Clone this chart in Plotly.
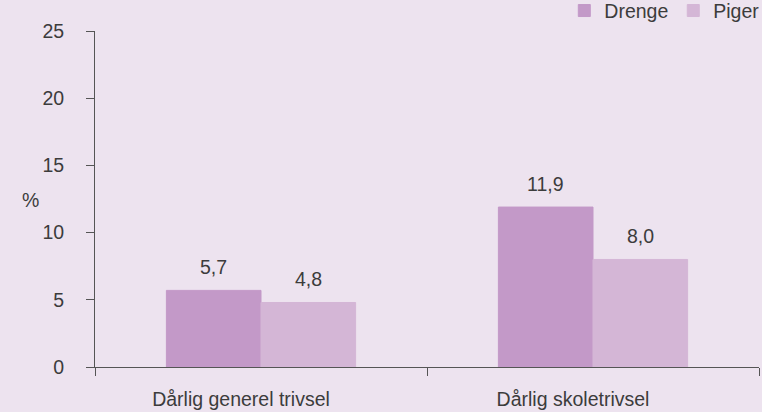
import plotly.graph_objects as go

categories = ['Dårlig generel trivsel', 'Dårlig skoletrivsel']
drenge = [5.7, 11.9]
piger = [4.8, 8.0]
y_ticks = [0, 5, 10, 15, 20, 25]

FONT = 'Liberation Sans, Arial, sans-serif'
TXT = '#3c3c3c'
FS = 19.5

fig = go.Figure()
fig.add_trace(go.Bar(x=categories, y=drenge, name='Drenge', marker_color='#c399c8',
                     marker_line=dict(color='#c399c8', width=1)))
fig.add_trace(go.Bar(x=categories, y=piger, name='Piger', marker_color='#d4b6d6',
                     marker_line=dict(color='#d4b6d6', width=1)))

#------------------ value labels ------------------#
for i, cat in enumerate(categories):
    for val, off in ((drenge[i], -0.143), (piger[i], 0.143)):
        fig.add_annotation(
            x=i + off, y=val, xref='x', yref='y',
            text=f'{val:.1f}'.replace('.', ','),
            showarrow=False, yshift=23,
            font=dict(size=FS, color=TXT, family=FONT),
        )

fig.add_annotation(
    x=-0.113, y=12.4, xref='paper', yref='y', text='%', showarrow=False,
    font=dict(size=FS, color=TXT, family=FONT),
)

fig.update_layout(
    width=762, height=412,
    barmode='group', bargap=0.43, bargroupgap=0,
    paper_bgcolor='#ede3ef', plot_bgcolor='#ede3ef',
    margin=dict(l=95, r=3, t=31, b=45, autoexpand=False),
    font=dict(family=FONT, size=FS, color=TXT),
    legend=dict(
        orientation='h', x=1.008, xanchor='right', y=1.118, yanchor='top',
        font=dict(size=FS, color=TXT),
        bgcolor='rgba(0,0,0,0)', itemwidth=30, traceorder='normal',
    ),
    showlegend=True,
)

fig.update_xaxes(
    showline=True, linecolor='#555555', linewidth=1,
    ticks='outside', tickson='boundaries', ticklen=8, tickcolor='#555555',
    showgrid=False, ticklabelstandoff=15, ticklabelshift=-20,
)
fig.update_yaxes(
    range=[0, 25], tickvals=y_ticks, showline=True, linecolor='#555555', linewidth=1,
    ticks='outside', ticklen=8, tickcolor='#555555', showgrid=False, zeroline=False,
    ticklabelstandoff=18,
)

fig.write_html('out.html', config={'displayModeBar': False},
               post_script="document.body.style.margin='0';")
